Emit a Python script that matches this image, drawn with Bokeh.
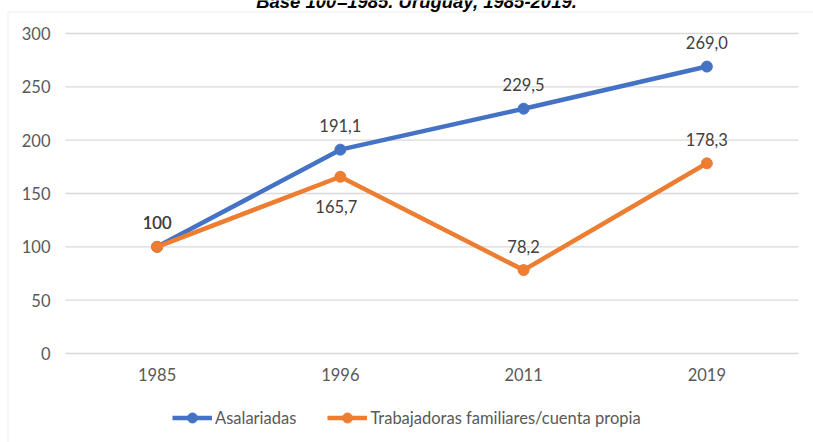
from bokeh.plotting import figure
from bokeh.models import (ColumnDataSource, Range1d, FixedTicker, Legend,
                          LegendItem, Label, BoxAnnotation)
from bokeh.core.properties import value
from bokeh.embed import file_html
from bokeh.resources import INLINE

# ---- data ----
years = ["1985", "1996", "2011", "2019"]
asalariadas = [100, 191.1, 229.5, 269.0]
familiares = [100, 165.7, 78.2, 178.3]
asal_labels = ["100", "191,1", "229,5", "269,0"]
fam_labels = ["100", "165,7", "78,2", "178,3"]
fam_label_side = ["above", "below", "above", "above"]
y_ticks = [0, 50, 100, 150, 200, 250, 300]
series_names = ["Asalariadas", "Trabajadoras familiares/cuenta propia"]
title_text = "Base 100=1985. Uruguay, 1985-2019."

# ---- style / layout ----
BLUE = "#4472C4"
ORANGE = "#ED7D31"
GRID = "#d9d9d9"
FONT = "Lato"
FS = "16.5px"
W, H = 813, 442
CAT_PX = 183.25          # width of one category band
FIRST_CAT_PX = 156.6     # centre of first category from left edge
Y_TOP_PX, Y_ZERO_PX = 33, 353
KY = (Y_ZERO_PX - Y_TOP_PX) / y_ticks[-1]

x_idx = list(range(len(years)))
x_start = -FIRST_CAT_PX / CAT_PX
x_end = x_start + W / CAT_PX
y_end = y_ticks[-1] + Y_TOP_PX / KY
y_start = y_end - H / KY

def px_x(px):
    return x_start + px / CAT_PX

def px_y(py):
    return y_end - py / KY

p = figure(width=W, height=H, output_backend="svg", toolbar_location=None, title=None,
           x_range=Range1d(x_start, x_end), y_range=Range1d(y_start, y_end),
           min_border=0, min_border_left=0, min_border_right=0,
           min_border_top=0, min_border_bottom=0)
p.outline_line_color = None
p.background_fill_color = "white"
p.border_fill_color = "white"
p.xgrid.visible = False
p.ygrid.visible = False

# axes drawn inside the frame
p.xaxis.fixed_location = 0
p.yaxis.fixed_location = x_idx[0] - 0.5
p.xaxis.ticker = FixedTicker(ticks=x_idx)
p.xaxis.major_label_overrides = {i: y for i, y in zip(x_idx, years)}
p.yaxis.ticker = FixedTicker(ticks=y_ticks)
for ax in (p.xaxis[0], p.yaxis[0]):
    ax.axis_line_color = None
    ax.major_tick_line_color = None
    ax.minor_tick_line_color = None
    ax.major_tick_out = 0
    ax.major_tick_in = 0
    ax.major_label_text_color = "#595959"
    ax.major_label_text_font = FONT
    ax.major_label_text_font_size = FS
p.yaxis.major_label_standoff = 15
p.xaxis.major_label_standoff = 14

# horizontal gridlines across the category bands
p.segment(x0=[x_idx[0] - 0.5] * len(y_ticks), x1=[x_idx[-1] + 0.5] * len(y_ticks),
          y0=y_ticks, y1=y_ticks, line_color=GRID, line_width=1.3)

src_a = ColumnDataSource(dict(x=x_idx, y=asalariadas, lab=asal_labels,
                              yo=[-24] * len(years), xo=[0] * len(years)))
src_f = ColumnDataSource(dict(x=x_idx, y=familiares, lab=fam_labels,
                              yo=[30 if s == "below" else -24 for s in fam_label_side],
                              xo=[-4 if s == "below" else 0 for s in fam_label_side]))

la = p.line("x", "y", source=src_a, line_color=BLUE, line_width=4.5)
sa = p.scatter("x", "y", source=src_a, size=11, fill_color=BLUE, line_color=BLUE)
lf = p.line("x", "y", source=src_f, line_color=ORANGE, line_width=4.5)
sf = p.scatter("x", "y", source=src_f, size=11, fill_color=ORANGE, line_color=ORANGE)

for src in (src_a, src_f):
    p.text("x", "y", text="lab", source=src, x_offset="xo", y_offset="yo",
           text_align="center", text_baseline="middle", text_color="#404040",
           text_font=value(FONT), text_font_size=FS)

legend = Legend(items=[LegendItem(label=series_names[0], renderers=[la, sa]),
                       LegendItem(label=series_names[1], renderers=[lf, sf])],
                orientation="horizontal", location=(172, 12),
                border_line_color=None, background_fill_alpha=0,
                label_text_font=FONT, label_text_font_size=FS,
                label_text_color="#595959", glyph_width=40, glyph_height=25,
                label_height=20, label_standoff=3, spacing=31, padding=0, margin=0)
p.add_layout(legend, "center")

# outer chart frame (partially visible, as in the source)
p.add_layout(BoxAnnotation(left=px_x(7.5), right=x_end + 1, top=px_y(11.5), bottom=y_start - 10,
                           fill_alpha=0, line_color=GRID, line_width=1.5))

# title, cut by the top edge as in the source
p.add_layout(Label(x=416, y=H - 1, x_units="screen", y_units="screen", text=title_text,
                   text_align="center", text_baseline="alphabetic",
                   text_font="Liberation Sans", text_font_style="bold italic",
                   text_font_size="18.5px", text_color="black"))

open("out.html", "w").write(file_html(p, INLINE))
